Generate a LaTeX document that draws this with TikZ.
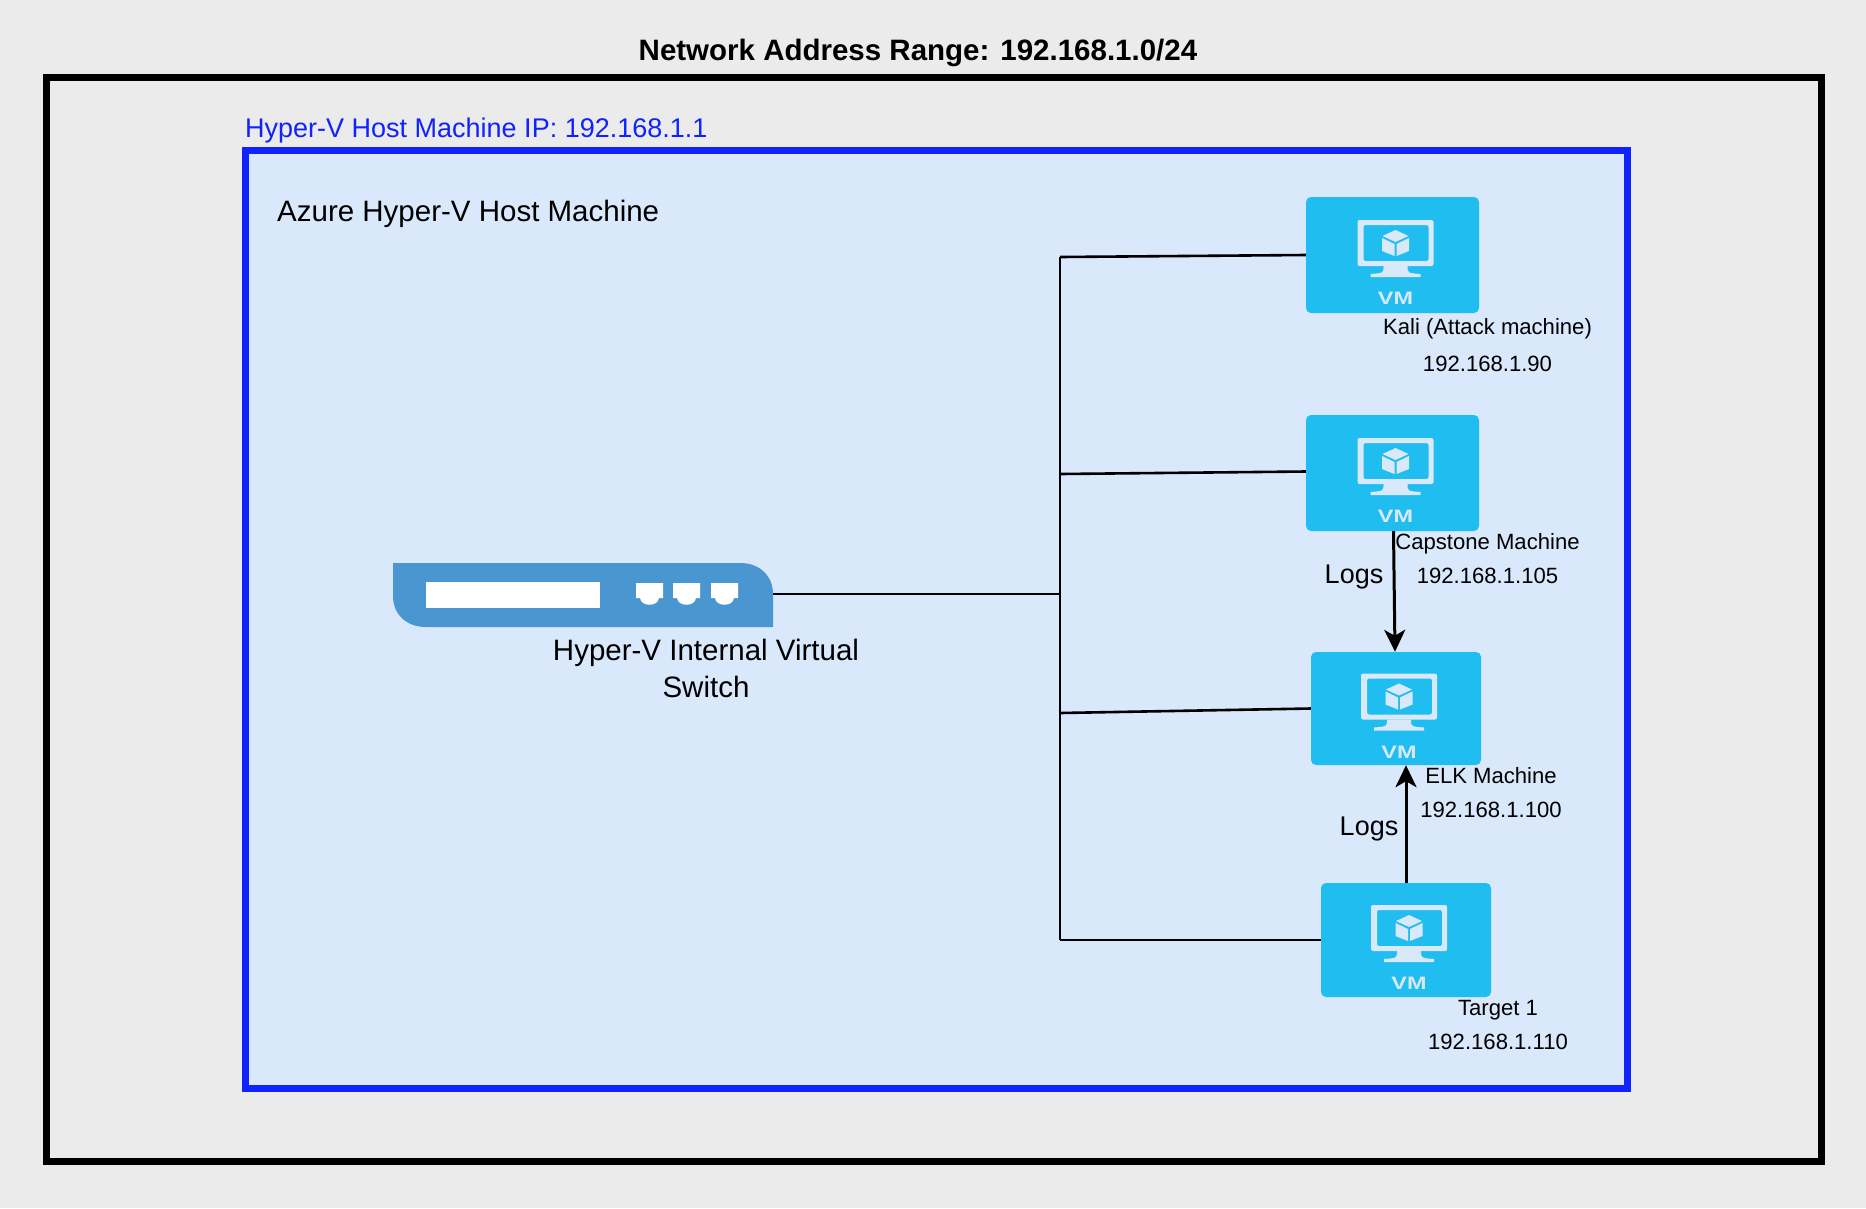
\documentclass[tikz,border=0pt]{standalone}
\usepackage{fontspec}
\setmainfont{Liberation Sans}
\usetikzlibrary{arrows.meta}
\definecolor{pagegray}{HTML}{EBEBEB}
\definecolor{hostfill}{HTML}{DAE8FC}
\definecolor{hostblue}{HTML}{0F22FF}
\definecolor{vmcyan}{HTML}{20BDF0}
\definecolor{vmpale}{HTML}{D9E9FA}
\definecolor{switchblue}{HTML}{4A96D0}
\newcommand{\fs}[1]{\fontsize{#1}{1.26\dimexpr #1pt\relax}\selectfont}
\tikzset{
  vmbox/.style={fill=vmcyan,rounded corners=5pt,inner sep=0pt},
  vmtag/.style={text=vmpale,font=\fs{18}\bfseries,xscale=1.3,inner sep=0pt},
  vmtext/.style={font=\fs{22.1},inner sep=0pt,anchor=base},
  bigtext/.style={font=\fs{29.5},inner sep=0pt},
  logtext/.style={font=\fs{27},inner sep=0pt,anchor=base},
  wire/.style={line width=2.6pt},
  logflow/.style={line width=3pt,-{Stealth[length=22pt,width=21pt,inset=6pt]}},
  port/.pic={
    \fill[white] (0,0) -- (27,0) -- (27,15) -- (23,15) .. controls (22,24) and (5,24) .. (4,15) -- (0,15) -- cycle;
  },
  vmicon/.pic={
    \fill[vmpale,rounded corners=2pt,even odd rule]
      (-38,-35) rectangle (38,11) (-32,-30) rectangle (33,6);
    \fill[vmpale] (-12,11) -- (12,11) .. controls (12,18) .. (25,19) -- (25,22) -- (-25,22) -- (-25,19) .. controls (-12,18) .. (-12,11) -- cycle;
    \fill[vmpale] (0,-25) -- (-13,-19) -- (0,-13) -- (13,-19) -- cycle;
    \fill[vmpale] (-13.5,-17) -- (-1,-11) -- (-1,1) -- (-13.5,-4) -- cycle;
    \fill[vmpale] (13.5,-17) -- (1,-11) -- (1,1) -- (13.5,-4) -- cycle;
  }
}
\begin{document}
\begin{tikzpicture}[x=1pt,y=-1pt]
  \useasboundingbox[fill=pagegray] (0,0) rectangle (1866,1208);
  \node[font=\fs{29.5}\bfseries,inner sep=0pt] (title) at (918,53) {Network Address Range: 192.168.1.0/24};
  \draw[line width=7pt] (46,77) rectangle (1821.5,1161.5);
  \draw[hostblue,fill=hostfill,line width=7pt] (245.5,150.5) rectangle (1627,1088);
  \node[font=\fs{27},inner sep=0pt,text=hostblue,anchor=base west] (hostip) at (245,137) {Hyper-V Host Machine IP: 192.168.1.1};
  \node[bigtext,anchor=base west] (hostname) at (277,221) {Azure Hyper-V Host Machine};
  % switch
  \fill[switchblue] (393,563) -- (740,563) .. controls (760,563) and (773,576) .. (773,594) -- (773,627) -- (426,627)
    .. controls (406,627) and (393,614) .. (393,596) -- cycle;
  \fill[white] (426,582) rectangle (600,608);
  \foreach \px in {636,673,711}
    \pic at (\px,583) {port};
  \coordinate (switch) at (773,594);
  \node[bigtext,align=center] (switchname) at (706,668.5) {Hyper-V Internal Virtual\\Switch};
  % the four machines
  \foreach \nm/\cx/\cy/\bw/\bh in {kali/1392.5/255/173/116,capstone/1392.5/473/173/116,elk/1396/708.5/170/113,target/1406/940/170/114}{
    \node[vmbox,minimum width=\bw pt,minimum height=\bh pt] (\nm) at (\cx,\cy) {};
    \pic at ([xshift=3pt]\nm.center) {vmicon};
    \node[vmtag] (\nm tag) at ([xshift=3pt,yshift=-43.5pt]\nm.center) {VM};
  }
  \node[vmtext] (kaliname) at (1487.5,334) {Kali (Attack machine)};
  \node[vmtext] (kaliip) at (1487.5,371) {192.168.1.90};
  \node[vmtext] (capstonename) at (1487.5,549) {Capstone Machine};
  \node[vmtext] (capstoneip) at (1487.5,583) {192.168.1.105};
  \node[vmtext] (elkname) at (1491,783) {ELK Machine};
  \node[vmtext] (elkip) at (1491,817) {192.168.1.100};
  \node[vmtext] (targetname) at (1498,1015) {Target 1};
  \node[vmtext] (targetip) at (1498,1049.5) {192.168.1.110};
  % wiring
  \coordinate (bustop) at (1060,257);
  \coordinate (busmid) at (1060,594);
  \coordinate (buscap) at (1060,474);
  \coordinate (buselk) at (1060,713);
  \coordinate (busend) at (1060,940);
  \draw[wire] (bustop) -- (busend);
  \draw[wire] (switch) -- (busmid);
  \draw[wire] (bustop) -- (kali.west);
  \draw[wire] (buscap) -- ([yshift=1.5pt]capstone.west);
  \draw[wire] (buselk) -- (elk.west);
  \draw[wire] (busend) -- (target.west);
  \draw[logflow] ([xshift=1pt]capstone.south) -- ([xshift=-1pt]elk.north);
  \draw[logflow] (target.north) -- (elk.south -| target.north);
  \node[logtext] (logsa) at (1354,583) {Logs};
  \node[logtext] (logsb) at (1369,835) {Logs};
\end{tikzpicture}
\end{document}
